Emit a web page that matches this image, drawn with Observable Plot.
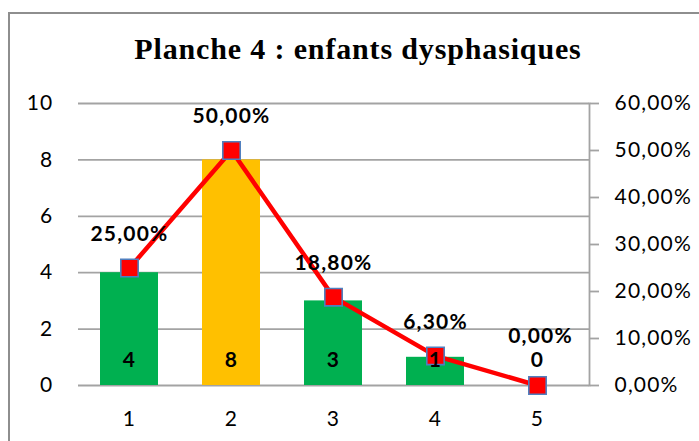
<!DOCTYPE html>
<html><head><meta charset="utf-8">
<script src="https://cdn.jsdelivr.net/npm/d3@7"></script>
<script src="https://cdn.jsdelivr.net/npm/@observablehq/plot@0.6"></script>
<style>
body{margin:0;background:#fff;}
#wrap{position:relative;width:699px;height:441px;overflow:hidden;background:#fff;}
#frame{position:absolute;left:8px;top:12px;width:720px;height:460px;border:2px solid #8e8e8e;box-sizing:border-box;}
#title{position:absolute;left:0;width:716px;top:32px;text-align:center;font:bold 30px "Liberation Serif",serif;letter-spacing:0.85px;color:#000;}
#chart{position:absolute;left:0;top:0;}
</style></head><body>
<div id="wrap"><div id="frame"></div><div id="title">Planche 4 : enfants dysphasiques</div><div id="chart"></div></div>
<script>
const categories = ["1","2","3","4","5"];
const counts = [4,8,3,1,0];
const percents = [25,50,18.8,6.3,0];
const percentLabels = ["25,00%","50,00%","18,80%","6,30%","0,00%"];
const barColors = ["#00B050","#FFC000","#00B050","#00B050","#00B050"];
const leftTicks = [0,2,4,6,8,10];
const rightTicks = [0,10,20,30,40,50,60];
const rightTickLabels = ["0,00%","10,00%","20,00%","30,00%","40,00%","50,00%","60,00%"];
const leftMax = 10, rightMax = 60;

const toLeft = p => p / rightMax * leftMax;
const data = categories.map((c,i)=>({cat:c,count:counts[i],pctY:toLeft(percents[i]),label:percentLabels[i],color:barColors[i]}));
const rightPos = rightTicks.map(toLeft);
const rightLabel = new Map(rightPos.map((p,i)=>[p, rightTickLabels[i]]));

const plot = Plot.plot({
  width:699, height:441,
  marginTop:103, marginBottom:56, marginLeft:78, marginRight:110,
  style:{fontFamily:"Lato, 'Open Sans', sans-serif", fontSize:"21px", letterSpacing:"1.2px", color:"#000", background:"transparent", overflow:"visible"},
  x:{domain:categories, paddingInner:0.43, paddingOuter:0.215, label:null},
  y:{domain:[0,leftMax], label:null},
  color:{type:"identity"},
  marks:[
    Plot.ruleY(leftTicks, {stroke:"#a3a3a3", strokeWidth:1.8}),
    Plot.frame({anchor:"right", stroke:"#a3a3a3", strokeWidth:1.8}),
    Plot.axisY(leftTicks, {anchor:"left", tickSize:0, tickPadding:25, label:null, fontSize:21}),
    Plot.axisY(rightPos, {anchor:"right", tickSize:9, tickPadding:16, stroke:"#a3a3a3", strokeWidth:1.8, tickFormat:d=>rightLabel.get(d), label:null, fontSize:21}),
    Plot.axisX({tickSize:0, tickPadding:26, label:null, fontSize:21}),
    Plot.barY(data,{x:"cat", y:"count", fill:"color"}),
    Plot.line(data,{x:"cat", y:"pctY", stroke:"#FF0000", strokeWidth:4.5}),
    Plot.dot(data,{x:"cat", y:"pctY", symbol:"square", r:9.8, fill:"#FF0000", stroke:"#4f7fbf", strokeWidth:1.6}),
    Plot.text(data,{x:"cat", y:0, text:d=>String(d.count), dy:-25, fontWeight:"bold", fontSize:21}),
    Plot.text(data.slice(0,4),{x:"cat", y:"pctY", text:"label", dy:-34, fontWeight:"bold", fontSize:21}),
    Plot.text(data.slice(4),{x:"cat", y:"pctY", text:"label", dy:-49, dx:3, fontWeight:"bold", fontSize:21})
  ]
});
document.getElementById("chart").appendChild(plot);
</script>
</body></html>
